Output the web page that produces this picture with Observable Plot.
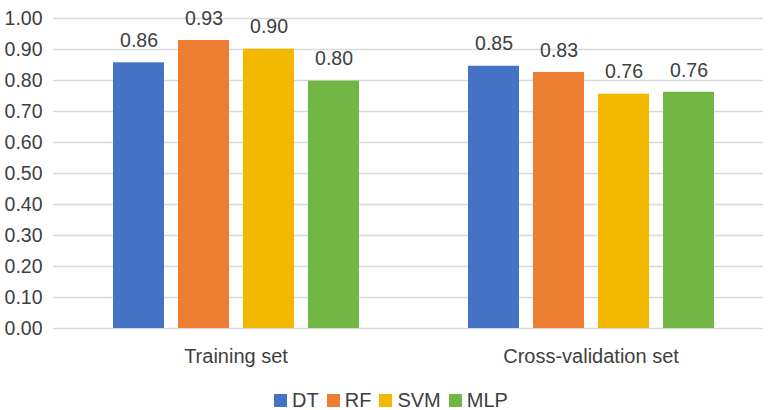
<!DOCTYPE html>
<html>
<head>
<meta charset="utf-8">
<script src="https://cdn.jsdelivr.net/npm/d3@7"></script>
<script src="https://cdn.jsdelivr.net/npm/@observablehq/plot@0.6"></script>
<style>
  html, body { margin: 0; padding: 0; background: #fff; }
  #chart { width: 775px; height: 410px; overflow: hidden; font-family: "Liberation Sans", Arial, sans-serif; color: #404040; }
  .legend { display: flex; justify-content: center; align-items: center; padding-left: 7px; margin-top: 5px; font-size: 20px; line-height: 22px; color: #404040; }
  .legend .item { display: flex; align-items: center; margin-right: 8px; }
  .legend .item:last-child { margin-right: 0; }
  .legend .sw { width: 13px; height: 13px; margin-right: 5px; display: inline-block; }
</style>
</head>
<body>
<div id="chart"></div>
<script>
const groups = ["Training set", "Cross-validation set"];
const models = ["DT", "RF", "SVM", "MLP"];
const trainingValues = [0.857, 0.929, 0.901, 0.798];
const crossValidationValues = [0.846, 0.826, 0.756, 0.762];
const colors = ["#4472C4", "#ED7D31", "#F2B800", "#72B744"];
const yTicks = [0.0, 0.1, 0.2, 0.3, 0.4, 0.5, 0.6, 0.7, 0.8, 0.9, 1.0];

const series = [trainingValues, crossValidationValues];
const data = groups.flatMap((g, gi) => models.map((m, mi) => ({group: g, model: m, value: series[gi][mi]})));
const fmt = d3.format(".2f");

const plot = Plot.plot({
  width: 775,
  height: 384,
  marginTop: 18,
  marginBottom: 56,
  marginLeft: 53,
  marginRight: 12,
  style: {fontFamily: "'Liberation Sans', Arial, sans-serif", fontSize: "19.5px", color: "#404040", background: "#fff"},
  fx: {domain: groups, padding: 0, label: null},
  x: {domain: models, paddingInner: 0.211, paddingOuter: 0.8237, align: 0.554, axis: null},
  y: {domain: [0, 1], axis: null},
  color: {domain: models, range: colors},
  marks: [
    Plot.ruleY(yTicks, {stroke: "#d9d9d9", strokeWidth: 1.4}),
    Plot.axisY({ticks: yTicks, tickFormat: ".2f", tickSize: 0, tickPadding: 11, label: null, fill: "#404040"}),
    Plot.barY(data, {fx: "group", x: "model", y: "value", fill: "model"}),
    Plot.text(data, {fx: "group", x: "model", y: "value", text: d => fmt(d.value), lineAnchor: "middle", dy: -22, fill: "#404040"}),
    Plot.axisFx({anchor: "bottom", tickSize: 0, tickPadding: 20, label: null, fontSize: 20, fill: "#404040", dx: 5})
  ]
});

const chart = document.getElementById("chart");
chart.appendChild(plot);

const legend = d3.select(chart).append("div").attr("class", "legend");
const items = legend.selectAll(".item").data(models).join("div").attr("class", "item");
items.append("span").attr("class", "sw").style("background", (d, i) => colors[i]);
items.append("span").text(d => d);
</script>
</body>
</html>
